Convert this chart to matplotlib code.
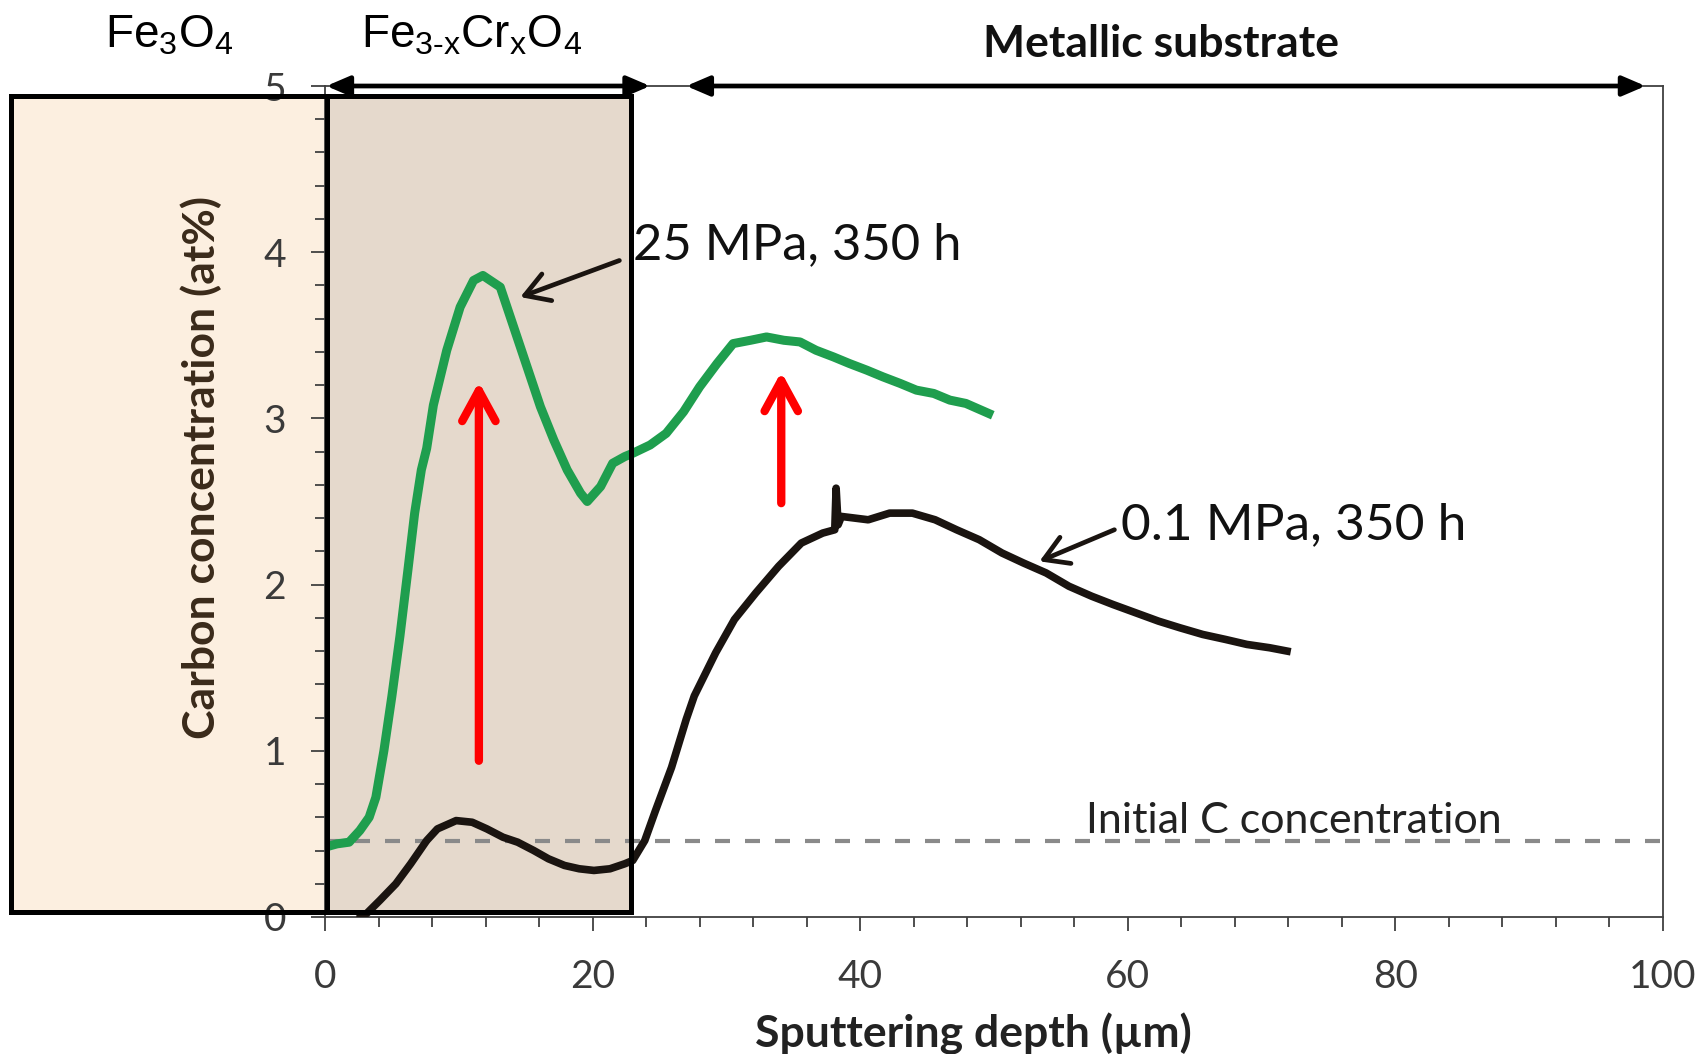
import matplotlib
matplotlib.use("Agg")
import matplotlib.pyplot as plt
from matplotlib.patches import Rectangle

# --- values ---
green_x = [0.0, 0.9, 1.8, 2.6, 3.3, 3.8, 4.4, 5.0, 5.6, 6.2, 6.7, 7.2, 7.6, 8.1, 9.1, 10.1,
           11.1, 11.8, 13.1, 14.1, 15.1, 16.1, 17.1, 18.1, 19.1, 19.6, 20.6, 21.5, 22.4, 23.0,
           24.3, 25.5, 26.8, 28.0, 29.3, 30.5, 31.8, 33.0, 34.3, 35.5, 36.7, 38.0, 39.2, 40.5,
           41.7, 43.0, 44.2, 45.5, 46.7, 47.9, 49.6]
green_y = [0.42, 0.44, 0.45, 0.52, 0.60, 0.72, 1.00, 1.33, 1.69, 2.09, 2.43, 2.69, 2.82, 3.08,
           3.41, 3.67, 3.83, 3.86, 3.79, 3.55, 3.31, 3.07, 2.87, 2.69, 2.55, 2.50, 2.59, 2.73,
           2.77, 2.79, 2.84, 2.91, 3.04, 3.19, 3.33, 3.45, 3.47, 3.49, 3.47, 3.46, 3.41, 3.37,
           3.33, 3.29, 3.25, 3.21, 3.17, 3.15, 3.11, 3.09, 3.03]

black_x = [2.7, 3.1, 4.1, 5.3, 6.4, 7.6, 8.4, 9.8, 11.0, 12.1, 13.3, 14.4, 15.6, 16.7, 17.9,
           19.0, 20.1, 21.3, 22.4, 23.0, 23.9, 24.7, 25.9, 27.0, 27.6, 29.2, 30.6, 32.2, 33.9,
           35.6, 37.2, 38.1, 38.2, 38.35, 38.6, 40.6, 42.2, 43.9, 45.6, 47.2, 48.9, 50.6, 52.2,
           53.9, 55.6, 57.3, 58.9, 60.6, 62.3, 63.9, 65.6, 67.3, 68.9, 70.6, 71.9]
black_y = [0.00, 0.02, 0.10, 0.20, 0.32, 0.46, 0.53, 0.58, 0.57, 0.53, 0.48, 0.45, 0.40, 0.35,
           0.31, 0.29, 0.28, 0.29, 0.32, 0.34, 0.46, 0.64, 0.90, 1.19, 1.33, 1.59, 1.79, 1.95,
           2.11, 2.25, 2.31, 2.33, 2.58, 2.36, 2.41, 2.39, 2.43, 2.43, 2.39, 2.33, 2.27, 2.19,
           2.13, 2.07, 1.99, 1.93, 1.88, 1.83, 1.78, 1.74, 1.70, 1.67, 1.64, 1.62, 1.60]

initial_c = 0.455

# layer zones (depth range) and red arrows (x, y_start, y_end)
zone_fe3o4 = (-23.5, 0.12)
zone_spinel = (0.12, 22.9)
zone_ymin, zone_ymax = 0.03, 4.94
red_arrows = [(11.5, 0.94, 3.22), (34.1, 2.49, 3.28)]

plt.rcParams["font.family"] = ["Lato", "DejaVu Sans"]
plt.rcParams["mathtext.fontset"] = "custom"
plt.rcParams["mathtext.rm"] = "Liberation Sans"
plt.rcParams["mathtext.it"] = "Liberation Sans:italic"

fig = plt.figure(figsize=(17.07, 10.54), dpi=100)
ax = fig.add_axes([0.1904, 0.130, 0.7838, 0.7884])

ax.set_xlim(0, 100)
ax.set_ylim(0, 5)

# shaded oxide layers
for (x0, x1), col in [(zone_fe3o4, "#fcefe0"), (zone_spinel, "#e5d9cc")]:
    ax.add_patch(Rectangle((x0, zone_ymin), x1 - x0, zone_ymax - zone_ymin,
                           facecolor=col, edgecolor="none", zorder=0, clip_on=False))
    ax.add_patch(Rectangle((x0, zone_ymin), x1 - x0, zone_ymax - zone_ymin,
                           facecolor="none", edgecolor="black", lw=3.6, zorder=6,
                           clip_on=False))

ax.axhline(initial_c, color="#8a8a8a", lw=3, ls=(0, (3.6, 3.6)), zorder=2)
ax.plot(green_x, green_y, color="#1f9e4e", lw=6.5, zorder=3, solid_joinstyle="round")
ax.plot(black_x, black_y, color="#1a1410", lw=5.5, zorder=3, solid_joinstyle="round")

for x, y0, y1 in red_arrows:
    ax.annotate("", xy=(x, y1), xytext=(x, y0),
                arrowprops=dict(arrowstyle="->,head_length=0.55,head_width=0.3",
                                color="red", lw=6, mutation_scale=40,
                                shrinkA=0, shrinkB=0), zorder=4)

# curve labels with pointer arrows
pointer = dict(arrowstyle="->,head_length=0.5,head_width=0.3", color="#1a1410",
               lw=3.4, mutation_scale=34, shrinkA=0, shrinkB=0)
ax.text(23.0, 4.04, "25 MPa, 350 h", fontsize=36.5, color="#111111",
        va="center", ha="left")
ax.annotate("", xy=(14.6, 3.73), xytext=(22.0, 3.95), arrowprops=pointer)
ax.text(59.5, 2.36, "0.1 MPa, 350 h", fontsize=37, color="#111111",
        va="center", ha="left")
ax.annotate("", xy=(53.4, 2.14), xytext=(59.0, 2.33), arrowprops=pointer)
ax.text(56.9, 0.58, "Initial C concentration", fontsize=31, color="#222222",
        va="center", ha="left")

# layer range arrows along the top
for x0, x1 in [(0.1, 24.3), (27.0, 98.7)]:
    ax.annotate("", xy=(x1, 5), xytext=(x0, 5), annotation_clip=False,
                arrowprops=dict(arrowstyle="<|-|>,head_length=0.7,head_width=0.3",
                                color="black", lw=3.4, mutation_scale=20,
                                shrinkA=0, shrinkB=0), zorder=5)

fig.text(0.099, 0.966, r"Fe$_3$O$_4$", fontsize=33, family="Liberation Sans",
         ha="center", va="center")
fig.text(0.276, 0.966, r"Fe$_{\text{3-x}}$Cr$_{\text{x}}$O$_4$", fontsize=33,
         family="Liberation Sans", ha="center", va="center")
fig.text(0.680, 0.958, "Metallic substrate", fontsize=32, fontweight="bold",
         ha="center", va="center", color="#111111")

# axes styling
for s in ax.spines.values():
    s.set_color("#404040")
    s.set_linewidth(1.3)
ax.set_xticks(range(0, 101, 20))
ax.set_xticks(range(0, 101, 4), minor=True)
ax.set_yticks(range(0, 6))
ax.set_yticks([i * 0.2 for i in range(26)], minor=True)
ax.tick_params(which="both", direction="out", color="#404040", width=1.3,
               labelcolor="#3a3a3a", labelsize=28)
ax.tick_params(which="major", length=10)
ax.tick_params(which="minor", length=7)
ax.tick_params(axis="x", which="major", pad=20)
ax.tick_params(axis="y", which="major", pad=18)

fig.text(0.570, 0.019, "Sputtering depth (µm)", fontsize=32, fontweight="bold",
         ha="center", va="center", color="#222222")
fig.text(0.118, 0.556, "Carbon concentration (at%)", fontsize=32, fontweight="bold",
         ha="center", va="center", rotation=90, color="#3a2a1a")

fig.savefig("out.png", dpi=100)
